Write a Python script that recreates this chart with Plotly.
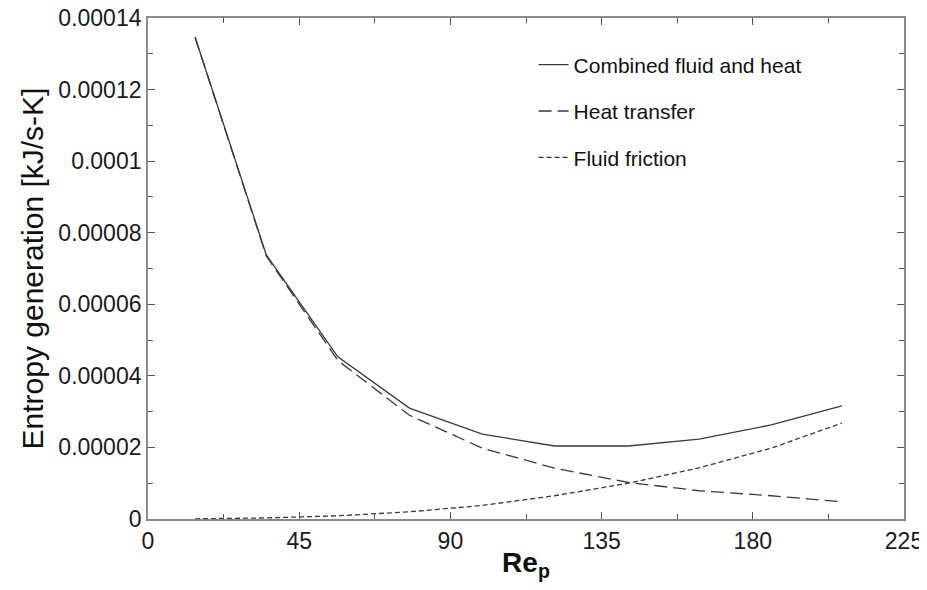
import plotly.graph_objects as go

re_p = [14, 35.2, 56.5, 77.8, 99.5, 121, 143, 164, 185.5, 206.5]
combined = [1.347e-4, 7.38e-5, 4.53e-5, 3.1e-5, 2.37e-5, 2.04e-5, 2.04e-5, 2.23e-5, 2.63e-5, 3.16e-5]
heat_transfer = [1.346e-4, 7.35e-5, 4.43e-5, 2.9e-5, 1.98e-5, 1.42e-5, 1.02e-5, 7.9e-6, 6.5e-6, 4.8e-6]
fluid_friction = [5e-8, 3e-7, 9e-7, 2.0e-6, 3.8e-6, 6.5e-6, 1.0e-5, 1.43e-5, 1.98e-5, 2.68e-5]

y_ticks = [0, 0.00002, 0.00004, 0.00006, 0.00008, 0.0001, 0.00012, 0.00014]
y_labels = ["0", "0.00002", "0.00004", "0.00006", "0.00008", "0.0001", "0.00012", "0.00014"]
x_ticks = [0, 45, 90, 135, 180, 225]
x_labels = ["0", "45", "90", "135", "180", "225"]

line_col = "#3a3a3a"
fig = go.Figure()
fig.add_trace(go.Scatter(x=re_p, y=combined, mode="lines", name="Combined fluid and heat",
                         line=dict(color=line_col, width=1.3, dash="solid"), legendgroup="a"))
fig.add_trace(go.Scatter(x=re_p, y=heat_transfer, mode="lines", name="Heat transfer",
                         line=dict(color=line_col, width=1.3, dash="13px,6px"), legendgroup="b"))
fig.add_trace(go.Scatter(x=re_p, y=fluid_friction, mode="lines", name="Fluid friction",
                         line=dict(color=line_col, width=1.3, dash="5px,3px"), legendgroup="c"))

font_fam = "Liberation Sans, Arial, sans-serif"
axis_common = dict(showline=True, linecolor="#8a8a8a", linewidth=1.8, mirror="ticks",
                   ticks="inside", ticklen=7, tickwidth=1, tickcolor="#555",
                   showgrid=False, zeroline=False, automargin=False,
                   ticklabeloverflow="allow",
                   tickfont=dict(family=font_fam, size=23, color="#1a1a1a"))

fig.update_xaxes(range=[0, 225], tickmode="array", tickvals=x_ticks, ticktext=x_labels,
                 minor=dict(ticks="inside", ticklen=5, dtick=22.5, tick0=0, tickcolor="#555"),
                 title=dict(text="<b>Re<sub>p</sub></b>", font=dict(family=font_fam, size=28, color="#111"),
                            standoff=0),
                 **axis_common)
fig.update_yaxes(range=[0, 0.00014], tickmode="array", tickvals=y_ticks, ticktext=y_labels,
                 minor=dict(ticks="inside", ticklen=5, dtick=0.00001, tick0=0, tickcolor="#555"),
                 title=dict(text="Entropy generation [kJ/s-K]", font=dict(family=font_fam, size=30, color="#111"),
                            standoff=6),
                 **axis_common)

fig.update_layout(
    width=927, height=590,
    margin=dict(l=140, r=31, t=10, b=79),
    paper_bgcolor="white", plot_bgcolor="white",
    showlegend=True,
    legend=dict(x=0.51, y=0.947, xanchor="left", yanchor="top", bgcolor="rgba(0,0,0,0)",
                font=dict(family=font_fam, size=21, color="#111"), tracegroupgap=16,
                itemwidth=30),
)
fig.write_html("out.html")
